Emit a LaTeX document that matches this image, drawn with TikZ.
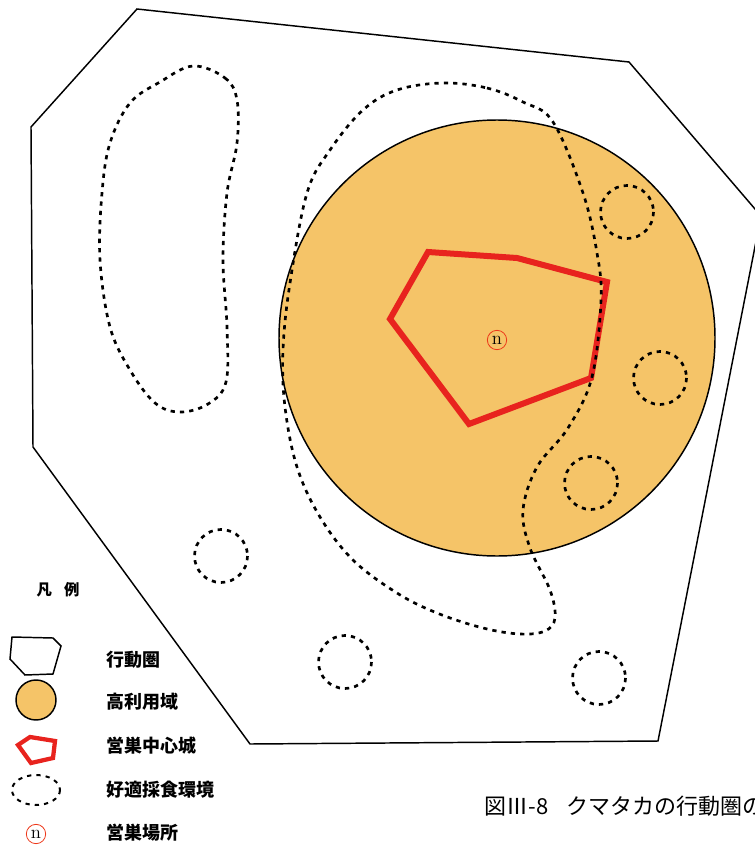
\documentclass[tikz,border=0pt]{standalone}
\usepackage{fontspec}
\newfontfamily\jpfont{Noto Sans CJK JP}
\definecolor{coreorange}{HTML}{F5C468}
\definecolor{nestred}{HTML}{E8231E}
\begin{document}
\begin{tikzpicture}[x=0.75pt, y=-0.75pt,
    forage/.style={line width=2pt, dash pattern=on 3.2pt off 3.8pt},
    legendtext/.style={anchor=west, font=\jpfont\bfseries\fontsize{13.5}{14}\selectfont},
    nestmark/.style={circle, draw=nestred!80!orange, line width=0.6pt, inner sep=0pt,
        minimum size=#1, font=\fontsize{14}{14}\selectfont}]
    \useasboundingbox (0,0) rectangle (754,845);

    % Home range
    \draw[line width=1.1pt, line join=miter]
        (137,9) -- (629,62) -- (761,216) -- (658,741) -- (250,744)
        -- (33,447) -- (31,127) -- cycle;

    % Core area
    \draw[fill=coreorange, line width=1.1pt] (497,338) circle (218);

    % Nesting centre
    \draw[nestred, line width=4.5pt, line join=miter]
        (428,252) -- (517,258) -- (607,282) -- (591,378) -- (469,424) -- (390,319) -- cycle;

    % Good foraging habitat
    \draw[forage] plot[smooth cycle, tension=0.6] coordinates {
        (443,83) (487,88) (523,102) (553,122) (583,193) (597,253) (601,300)
        (592,377) (568,428) (537,467) (523,510) (530,548) (550,590) (555,618)
        (545,631) (520,634) (483,628) (437,613) (397,593) (353,560) (320,517)
        (297,467) (285,407) (283,350) (290,283) (307,193) (330,150) (363,110) (397,90)};
    \draw[forage] plot[smooth cycle, tension=0.6] coordinates {
        (193,66) (225,78) (237,100) (237,143) (227,193) (223,260) (227,327)
        (226,382) (208,404) (180,412) (155,403) (130,370) (110,327) (100,260)
        (102,193) (110,143) (130,103) (160,82)};
    \foreach \cx/\cy in {627/212, 660/378, 591/483, 221/556, 345/662, 599/678}
        \draw[forage] (\cx,\cy) circle (26.5);

    % Nest site
    \node[nestmark=14.5pt] (nest) at (497,340) {n};

    % Legend
    \node[font=\jpfont\bfseries\fontsize{11.5}{12}\selectfont] (legtitle) at (58,590) {凡\hspace{0.8em}例};
    \draw[line width=1.1pt] (12,637) -- (53,638) -- (61,646) -- (53,674) -- (25,675) -- (10,659) -- cycle;
    \draw[fill=coreorange, line width=1.1pt] (36,700) circle (20);
    \draw[nestred, line width=3.2pt, line join=miter]
        (18,745) -- (30,737) -- (55,741) -- (53,758) -- (31,763) -- cycle;
    \draw[forage, line width=1.5pt] (36,790) ellipse (24 and 15);
    \node[nestmark=14.5pt] (legnest) at (36,834) {n};

    \node[legendtext] (leghome) at (102,660) {行動圏};
    \node[legendtext] (legcore) at (102,702) {高利用域};
    \node[legendtext] (legcentre) at (102,746) {営巣中心城};
    \node[legendtext] (legforage) at (102,790) {好適採食環境};
    \node[legendtext] (legnestsite) at (102,833) {営巣場所};

    % Caption
    \node[anchor=west, font=\jpfont\fontsize{16.5}{17}\selectfont] (caption) at (480,806)
        {図Ⅲ-8\hspace{0.8em}クマタカの行動圏の};
\end{tikzpicture}
\end{document}
